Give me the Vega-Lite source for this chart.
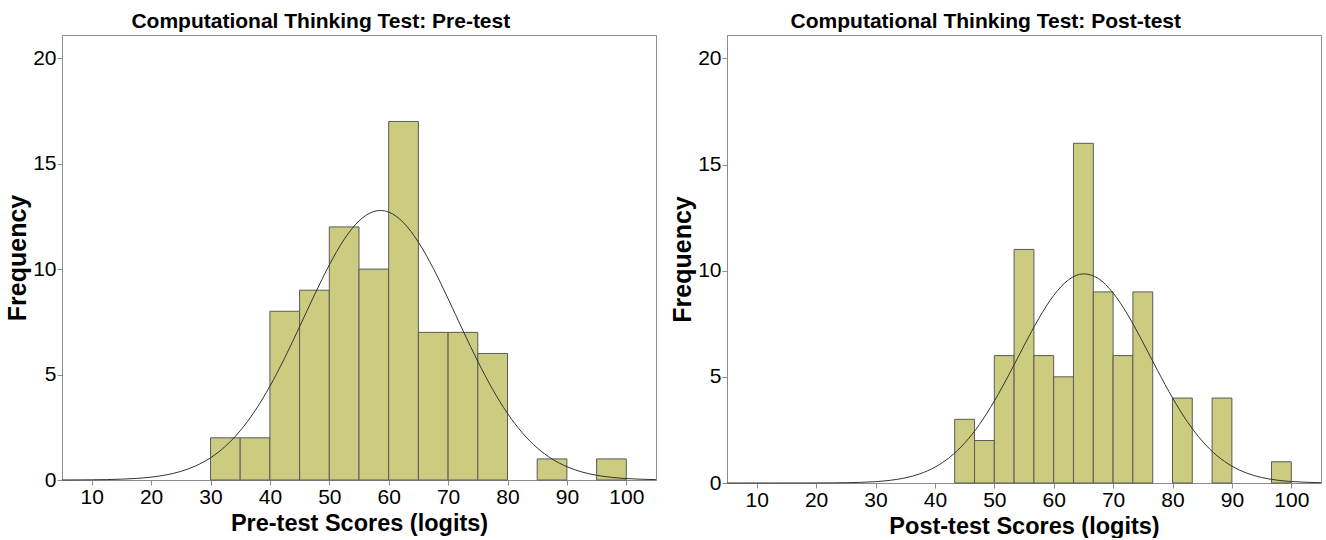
{
  "$schema": "https://vega.github.io/schema/vega-lite/v6.json",
  "padding": {"left": 5, "top": 10, "right": 4, "bottom": 0},
  "spacing": 11,
  "background": "white",
  "datasets": {
    "pre_bars": [
      {"lo": 30, "hi": 35, "count": 2},
      {"lo": 35, "hi": 40, "count": 2},
      {"lo": 40, "hi": 45, "count": 8},
      {"lo": 45, "hi": 50, "count": 9},
      {"lo": 50, "hi": 55, "count": 12},
      {"lo": 55, "hi": 60, "count": 10},
      {"lo": 60, "hi": 65, "count": 17},
      {"lo": 65, "hi": 70, "count": 7},
      {"lo": 70, "hi": 75, "count": 7},
      {"lo": 75, "hi": 80, "count": 6},
      {"lo": 85, "hi": 90, "count": 1},
      {"lo": 95, "hi": 100, "count": 1}
    ],
    "post_bars": [
      {"lo": 43.33, "hi": 46.67, "count": 3},
      {"lo": 46.67, "hi": 50, "count": 2},
      {"lo": 50, "hi": 53.33, "count": 6},
      {"lo": 53.33, "hi": 56.67, "count": 11},
      {"lo": 56.67, "hi": 60, "count": 6},
      {"lo": 60, "hi": 63.33, "count": 5},
      {"lo": 63.33, "hi": 66.67, "count": 16},
      {"lo": 66.67, "hi": 70, "count": 9},
      {"lo": 70, "hi": 73.33, "count": 6},
      {"lo": 73.33, "hi": 76.67, "count": 9},
      {"lo": 80, "hi": 83.33, "count": 4},
      {"lo": 86.67, "hi": 90, "count": 4},
      {"lo": 96.67, "hi": 100, "count": 1}
    ],
    "pre_curve": [
      {"x": 5, "y": 0.002}, {"x": 7.5, "y": 0.0044}, {"x": 10, "y": 0.0095}, {"x": 12.5, "y": 0.0195},
      {"x": 15, "y": 0.0386}, {"x": 17.5, "y": 0.0737}, {"x": 20, "y": 0.1354}, {"x": 22.5, "y": 0.2395},
      {"x": 25, "y": 0.4077}, {"x": 27.5, "y": 0.6676}, {"x": 30, "y": 1.053}, {"x": 32.5, "y": 1.598},
      {"x": 35, "y": 2.335}, {"x": 37.5, "y": 3.285}, {"x": 40, "y": 4.446}, {"x": 42.5, "y": 5.794},
      {"x": 45, "y": 7.268}, {"x": 47.5, "y": 8.775}, {"x": 50, "y": 10.198}, {"x": 52.5, "y": 11.409},
      {"x": 55, "y": 12.284}, {"x": 57.5, "y": 12.733}, {"x": 58.6, "y": 12.78}, {"x": 60, "y": 12.703},
      {"x": 62.5, "y": 12.2}, {"x": 65, "y": 11.278}, {"x": 67.5, "y": 10.036}, {"x": 70, "y": 8.596},
      {"x": 72.5, "y": 7.087}, {"x": 75, "y": 5.624}, {"x": 77.5, "y": 4.297}, {"x": 80, "y": 3.159},
      {"x": 82.5, "y": 2.235}, {"x": 85, "y": 1.523}, {"x": 87.5, "y": 0.999}, {"x": 90, "y": 0.631},
      {"x": 92.5, "y": 0.383}, {"x": 95, "y": 0.224}, {"x": 97.5, "y": 0.126}, {"x": 100, "y": 0.0684},
      {"x": 102.5, "y": 0.0356}, {"x": 105, "y": 0.0179}
    ],
    "post_curve": [
      {"x": 5, "y": 0.0}, {"x": 7.5, "y": 0.00001}, {"x": 10, "y": 0.00004}, {"x": 12.5, "y": 0.00012},
      {"x": 15, "y": 0.00034}, {"x": 17.5, "y": 0.00093}, {"x": 20, "y": 0.0024}, {"x": 22.5, "y": 0.0059},
      {"x": 25, "y": 0.0137}, {"x": 27.5, "y": 0.0302}, {"x": 30, "y": 0.0635}, {"x": 32.5, "y": 0.1269},
      {"x": 35, "y": 0.2408}, {"x": 37.5, "y": 0.4342}, {"x": 40, "y": 0.7444}, {"x": 42.5, "y": 1.2126},
      {"x": 45, "y": 1.876}, {"x": 47.5, "y": 2.759}, {"x": 50, "y": 3.856}, {"x": 52.5, "y": 5.122},
      {"x": 55, "y": 6.465}, {"x": 57.5, "y": 7.753}, {"x": 60, "y": 8.836}, {"x": 62.5, "y": 9.569},
      {"x": 65, "y": 9.849}, {"x": 67.5, "y": 9.632}, {"x": 70, "y": 8.951}, {"x": 72.5, "y": 7.907},
      {"x": 75, "y": 6.635}, {"x": 77.5, "y": 5.292}, {"x": 80, "y": 4.011}, {"x": 82.5, "y": 2.888},
      {"x": 85, "y": 1.977}, {"x": 87.5, "y": 1.285}, {"x": 90, "y": 0.794}, {"x": 92.5, "y": 0.4665},
      {"x": 95, "y": 0.2603}, {"x": 97.5, "y": 0.1381}, {"x": 100, "y": 0.0696}, {"x": 102.5, "y": 0.0333},
      {"x": 105, "y": 0.0152}
    ]
  },
  "config": {
    "view": {"stroke": "#8c8c8c", "strokeWidth": 1},
    "axis": {
      "grid": false,
      "domainColor": "#8c8c8c",
      "tickColor": "#8c8c8c",
      "tickSize": 5,
      "labelFont": "Liberation Sans, Arial, sans-serif",
      "labelFontSize": 21,
      "labelColor": "#000000",
      "labelPadding": 1,
      "titleFont": "Liberation Sans, Arial, sans-serif",
      "titleFontWeight": "bold",
      "titleColor": "#000000"
    },
    "axisX": {"titleFontSize": 23.5, "titlePadding": 4},
    "axisY": {"titleFontSize": 25, "titlePadding": 2},
    "title": {
      "font": "Liberation Sans, Arial, sans-serif",
      "fontSize": 21,
      "fontWeight": "bold",
      "color": "#000000",
      "anchor": "middle",
      "frame": "bounds",
      "offset": 3,
      "dx": -11
    }
  },
  "hconcat": [
    {
      "width": 594,
      "height": 445,
      "title": "Computational Thinking Test: Pre-test",
      "layer": [
        {
          "data": {"name": "pre_bars"},
          "mark": {"type": "rect", "fill": "#cccc80", "stroke": "#5a5a5a", "strokeWidth": 1},
          "encoding": {
            "x": {"field": "lo", "type": "quantitative",
                  "scale": {"domain": [5, 105], "nice": false, "zero": false},
                  "axis": {"values": [10, 20, 30, 40, 50, 60, 70, 80, 90, 100], "title": "Pre-test Scores (logits)"}},
            "x2": {"field": "hi"},
            "y": {"field": "count", "type": "quantitative",
                  "scale": {"domain": [0, 21.1], "nice": false},
                  "axis": {"values": [0, 5, 10, 15, 20], "title": "Frequency"}},
            "y2": {"datum": 0}
          }
        },
        {
          "data": {"name": "pre_curve"},
          "mark": {"type": "line", "color": "#333333", "strokeWidth": 1, "interpolate": "monotone"},
          "encoding": {
            "x": {"field": "x", "type": "quantitative"},
            "y": {"field": "y", "type": "quantitative"}
          }
        }
      ]
    },
    {
      "width": 594,
      "height": 448,
      "title": "Computational Thinking Test: Post-test",
      "layer": [
        {
          "data": {"name": "post_bars"},
          "mark": {"type": "rect", "fill": "#cccc80", "stroke": "#5a5a5a", "strokeWidth": 1},
          "encoding": {
            "x": {"field": "lo", "type": "quantitative",
                  "scale": {"domain": [5, 105], "nice": false, "zero": false},
                  "axis": {"values": [10, 20, 30, 40, 50, 60, 70, 80, 90, 100], "title": "Post-test Scores (logits)"}},
            "x2": {"field": "hi"},
            "y": {"field": "count", "type": "quantitative",
                  "scale": {"domain": [0, 21.1], "nice": false},
                  "axis": {"values": [0, 5, 10, 15, 20], "title": "Frequency"}},
            "y2": {"datum": 0}
          }
        },
        {
          "data": {"name": "post_curve"},
          "mark": {"type": "line", "color": "#333333", "strokeWidth": 1, "interpolate": "monotone"},
          "encoding": {
            "x": {"field": "x", "type": "quantitative"},
            "y": {"field": "y", "type": "quantitative"}
          }
        }
      ]
    }
  ]
}
